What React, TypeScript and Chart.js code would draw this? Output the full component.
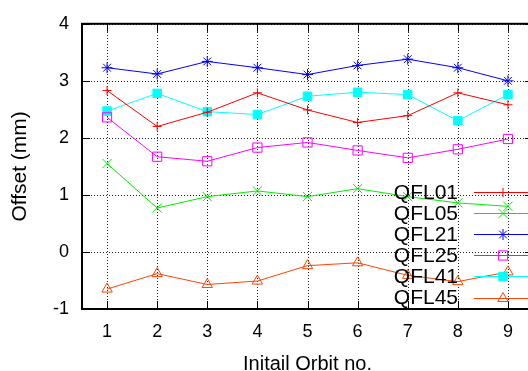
import React, { useEffect, useRef } from "react";
import { Chart, registerables } from "chart.js";
import { drawPoint } from "chart.js/helpers";

Chart.register(...registerables);

const categories = ["1", "2", "3", "4", "5", "6", "7", "8", "9"];
const seriesNames = ["QFL01", "QFL05", "QFL21", "QFL25", "QFL41", "QFL45"];
const qfl01 = [2.83, 2.2, 2.45, 2.79, 2.49, 2.27, 2.39, 2.79, 2.58];
const qfl05 = [1.55, 0.77, 0.97, 1.07, 0.97, 1.11, 0.97, 0.86, 0.8];
const qfl21 = [3.23, 3.12, 3.34, 3.23, 3.11, 3.27, 3.38, 3.23, 3.0];
const qfl25 = [2.36, 1.67, 1.59, 1.83, 1.92, 1.78, 1.65, 1.8, 1.98];
const qfl41 = [2.47, 2.78, 2.46, 2.41, 2.73, 2.8, 2.76, 2.3, 2.76];
const qfl45 = [-0.65, -0.38, -0.57, -0.51, -0.24, -0.19, -0.41, -0.52, -0.35];
const yMin = -1;
const yMax = 4;
const xTitle = "Initail Orbit no.";
const yTitle = "Offset (mm)";

const FONT = "'Liberation Sans', Arial, sans-serif";

const styles = [
  { color: "#ff0000", point: "cross", radius: 4.5, fill: "transparent" },
  { color: "#00ee00", point: "crossRot", radius: 6.5, fill: "transparent" },
  { color: "#0000ff", point: "star", radius: 5.5, fill: "transparent" },
  { color: "#ff00ff", point: "rect", radius: 6.5, fill: "transparent" },
  { color: "#00ffff", point: "rect", radius: 6, fill: "#00ffff" },
  { color: "#ff4500", point: "triangle", radius: 6, fill: "transparent" },
];

const framePlugin = {
  id: "frame",
  beforeDatasetsDraw(chart: any) {
    const { ctx, chartArea } = chart;
    const { left, right, top, bottom } = chartArea;
    const xs = chart.scales.x;
    const ys = chart.scales.y;
    ctx.save();
    // dotted grid
    ctx.strokeStyle = "#222";
    ctx.lineWidth = 1;
    ctx.setLineDash([1, 2]);
    ctx.beginPath();
    xs.ticks.forEach((_t: any, i: number) => {
      const x = Math.round(xs.getPixelForTick(i)) + 0.5;
      ctx.moveTo(x, bottom);
      ctx.lineTo(x, top);
    });
    ys.ticks.forEach((t: any) => {
      const y = Math.round(ys.getPixelForValue(t.value)) + 0.5;
      ctx.moveTo(left, y);
      ctx.lineTo(right, y);
    });
    ctx.stroke();
    // inward tick marks
    ctx.strokeStyle = "#000";
    ctx.setLineDash([]);
    const tl = 8;
    ctx.beginPath();
    xs.ticks.forEach((_t: any, i: number) => {
      const x = Math.round(xs.getPixelForTick(i)) + 0.5;
      ctx.moveTo(x, bottom);
      ctx.lineTo(x, bottom - tl);
      ctx.moveTo(x, top);
      ctx.lineTo(x, top + tl);
    });
    ys.ticks.forEach((t: any) => {
      const y = Math.round(ys.getPixelForValue(t.value)) + 0.5;
      ctx.moveTo(left, y);
      ctx.lineTo(left + tl, y);
      ctx.moveTo(right, y);
      ctx.lineTo(right - tl, y);
    });
    ctx.stroke();
    ctx.lineWidth = 2;
    ctx.strokeRect(left, top, right - left, bottom - top);
    ctx.restore();
  },
};

const legendPlugin = {
  id: "insideLegend",
  afterDatasetsDraw(chart: any) {
    const { ctx, chartArea } = chart;
    const textRight = chartArea.right - 75;
    const lineStart = chartArea.right - 59;
    const lineEnd = chartArea.right - 1;
    const markX = chartArea.right - 30;
    const rowH = 21.1;
    const y0 = chartArea.bottom - 117;
    ctx.save();
    chart.data.datasets.forEach((ds: any, i: number) => {
      const y = y0 + rowH * i;
      ctx.fillStyle = "#000";
      ctx.font = `21px ${FONT}`;
      ctx.textAlign = "right";
      ctx.textBaseline = "middle";
      ctx.fillText(ds.label, textRight, y + 1);
      ctx.strokeStyle = ds.borderColor;
      ctx.lineWidth = 1;
      ctx.beginPath();
      ctx.moveTo(lineStart, Math.round(y) + 0.5);
      ctx.lineTo(lineEnd, Math.round(y) + 0.5);
      ctx.stroke();
      ctx.fillStyle = ds.pointBackgroundColor;
      ctx.strokeStyle = ds.borderColor;
      drawPoint(ctx, { pointStyle: ds.pointStyle, radius: ds.pointRadius, rotation: 0, borderWidth: 1 } as any, markX, Math.round(y) + 0.5);
    });
    ctx.restore();
  },
};

export default function App() {
  const ref = useRef<HTMLCanvasElement | null>(null);
  useEffect(() => {
    if (!ref.current) return;
    const all = [qfl01, qfl05, qfl21, qfl25, qfl41, qfl45];
    const chart = new Chart(ref.current, {
      type: "line",
      data: {
        labels: categories,
        datasets: all.map((d, i) => ({
          label: seriesNames[i],
          data: d,
          borderColor: styles[i].color,
          backgroundColor: styles[i].color,
          pointBackgroundColor: styles[i].fill,
          pointBorderColor: styles[i].color,
          pointStyle: styles[i].point as any,
          pointRadius: styles[i].radius,
          pointBorderWidth: 1,
          borderWidth: 1,
          tension: 0,
          fill: false,
        })),
      },
      options: {
        animation: false,
        responsive: false,
        layout: { padding: { left: 0, right: 27, top: 16, bottom: 0 } },
        plugins: { legend: { display: false }, tooltip: { enabled: false } },
        scales: {
          x: {
            type: "category",
            offset: true,
            grid: { display: false, offset: false, drawTicks: false },
            border: { display: false },
            ticks: { color: "#000", font: { family: FONT, size: 18 }, padding: 12, maxRotation: 0 },
            title: { display: true, text: xTitle, color: "#000", font: { family: FONT, size: 20, lineHeight: 1 }, padding: { top: 0, bottom: -3 } },
            afterFit: (s: any) => { s.height = 62; },
          },
          y: {
            type: "linear",
            min: yMin,
            max: yMax,
            ticks: { stepSize: 1, color: "#000", font: { family: FONT, size: 18 }, padding: 13 },
            grid: { display: false, drawTicks: false },
            border: { display: false },
            title: { display: true, text: yTitle, color: "#000", font: { family: FONT, size: 21, lineHeight: 1 }, padding: { top: 10, bottom: 0 } },
            afterFit: (s: any) => { s.width = 82; },
          },
        },
      },
      plugins: [framePlugin, legendPlugin],
    });
    return () => chart.destroy();
  }, []);
  return (
    <div style={{ position: "fixed", left: 0, top: 0, width: 528, height: 371, overflow: "hidden", background: "#fff" }}>
      <canvas ref={ref} width={560} height={371} style={{ display: "block", width: 560, height: 371 }} />
    </div>
  );
}
